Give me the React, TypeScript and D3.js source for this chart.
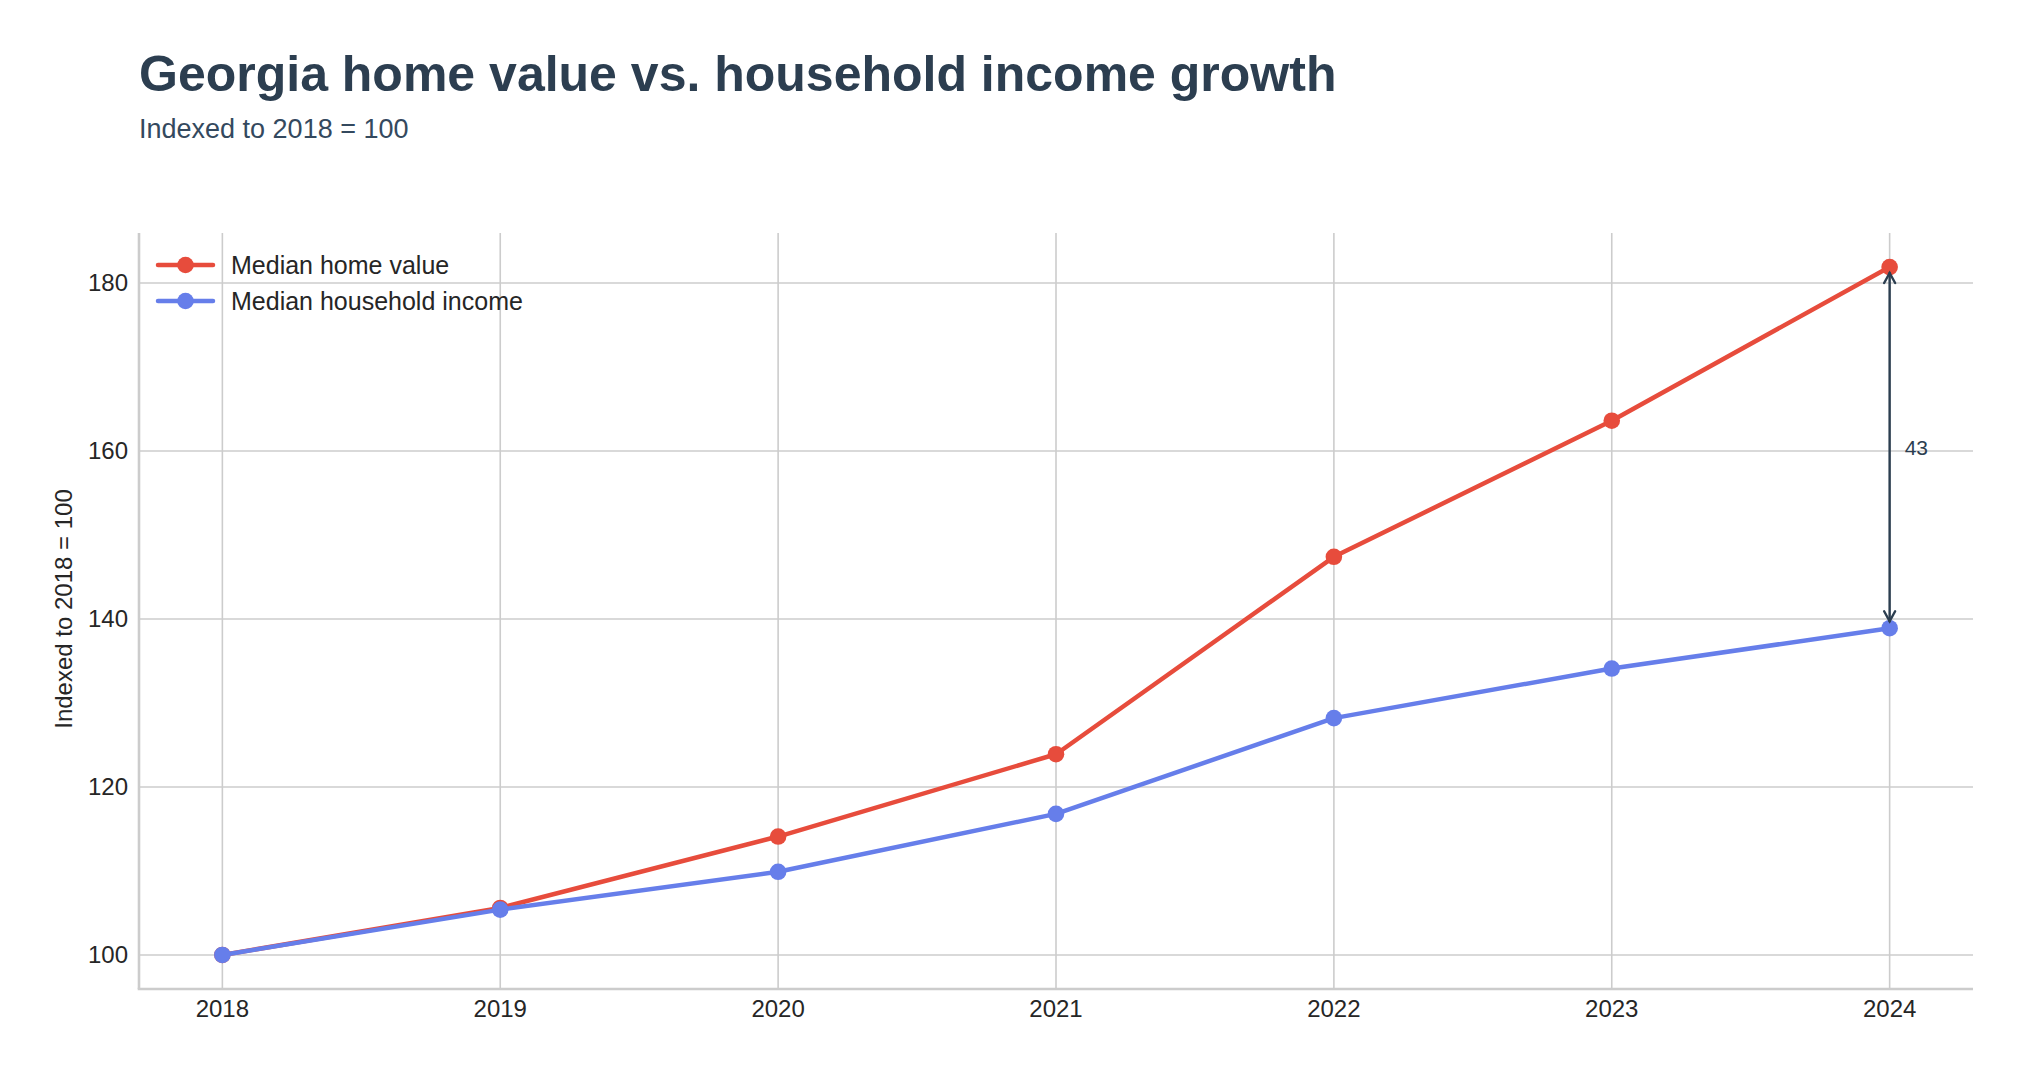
import React from "react";
import * as d3 from "d3";

const years: number[] = [2018, 2019, 2020, 2021, 2022, 2023, 2024];
const homeValue: number[] = [100, 105.6, 114.1, 123.9, 147.4, 163.6, 181.9];
const householdIncome: number[] = [100, 105.4, 109.9, 116.8, 128.2, 134.1, 138.9];
const yTicks: number[] = [100, 120, 140, 160, 180];
const seriesNames: string[] = ["Median home value", "Median household income"];
const seriesColors: string[] = ["#e74c3c", "#667eea"];

const W = 2027;
const H = 1075;
const FONT = "'Liberation Sans', Arial, Helvetica, sans-serif";

export default function App() {
  const left = 139;
  const right = 1973;
  const top = 233;
  const bottom = 989;

  const x = d3.scaleLinear().domain([2017.7, 2024.3]).range([left, right]);
  const y = d3.scaleLinear().domain([95.95, 185.95]).range([bottom, top]);

  const line = d3
    .line<number>()
    .x((_, i) => x(years[i]))
    .y((v) => y(v));

  const series = [homeValue, householdIncome];

  const lastIdx = years.length - 1;
  const ax = x(years[lastIdx]);
  const yTop = y(homeValue[lastIdx]);
  const yBot = y(householdIncome[lastIdx]);
  const gap = Math.round(homeValue[lastIdx] - householdIncome[lastIdx]);
  const arrowTop = yTop + 6;
  const arrowBot = yBot - 7;
  const ah = 10;
  const aw = 5.5;
  const arrowColor = "#2c3e50";

  return (
    <svg
      width={W}
      height={H}
      style={{ position: "absolute", left: 0, top: 0, display: "block", background: "#fff" }}
      fontFamily={FONT}
    >
      <rect x={0} y={0} width={W} height={H} fill="#ffffff" />
      {/* Title */}
      <text x={139} y={91} fontSize={50} fontWeight="bold" fill="#2c3e50">
        Georgia home value vs. household income growth
      </text>
      <text x={139} y={138} fontSize={27} fill="#34495e">
        Indexed to 2018 = 100
      </text>

      {/* Grid */}
      <g stroke="#cccccc" strokeWidth={1.6}>
        {years.map((yr) => (
          <line key={"gx" + yr} x1={x(yr)} x2={x(yr)} y1={top} y2={bottom} />
        ))}
        {yTicks.map((t) => (
          <line key={"gy" + t} x1={left} x2={right} y1={y(t)} y2={y(t)} />
        ))}
      </g>

      {/* Spines */}
      <line x1={left} x2={left} y1={top} y2={bottom} stroke="#cccccc" strokeWidth={2.6} />
      <line x1={left - 1.3} x2={right} y1={bottom} y2={bottom} stroke="#cccccc" strokeWidth={2.6} />

      {/* Tick labels */}
      <g fontSize={24} fill="#262626">
        {years.map((yr) => (
          <text key={"tx" + yr} x={x(yr)} y={1017} textAnchor="middle">
            {yr}
          </text>
        ))}
        {yTicks.map((t) => (
          <text key={"ty" + t} x={128} y={y(t)} textAnchor="end" dominantBaseline="central">
            {t}
          </text>
        ))}
      </g>

      {/* Y axis label */}
      <text
        transform={`translate(72, 609) rotate(-90)`}
        textAnchor="middle"
        fontSize={24}
        fill="#262626"
      >
        Indexed to 2018 = 100
      </text>

      {/* Series */}
      {series.map((s, si) => (
        <g key={"s" + si}>
          <path
            d={line(s) || ""}
            fill="none"
            stroke={seriesColors[si]}
            strokeWidth={4.5}
            strokeLinejoin="round"
            strokeLinecap="round"
          />
          {s.map((v, i) => (
            <circle key={i} cx={x(years[i])} cy={y(v)} r={8.3} fill={seriesColors[si]} />
          ))}
        </g>
      ))}

      {/* Gap annotation */}
      <g stroke={arrowColor} strokeWidth={2.4} fill="none" strokeLinecap="round" strokeLinejoin="miter">
        <line x1={ax} x2={ax} y1={arrowTop} y2={arrowBot} />
        <polyline points={`${ax - aw},${arrowTop + ah} ${ax},${arrowTop} ${ax + aw},${arrowTop + ah}`} />
        <polyline points={`${ax - aw},${arrowBot - ah} ${ax},${arrowBot} ${ax + aw},${arrowBot - ah}`} />
      </g>
      <text
        x={ax + 15}
        y={(yTop + yBot) / 2}
        dominantBaseline="central"
        fontSize={21}
        fill={arrowColor}
      >
        {gap}
      </text>

      {/* Legend */}
      {seriesNames.map((name, i) => {
        const ly = 265 + i * 36;
        return (
          <g key={"lg" + i}>
            <line x1={158} x2={213} y1={ly} y2={ly} stroke={seriesColors[i]} strokeWidth={4.5} strokeLinecap="round" />
            <circle cx={185.5} cy={ly} r={8.3} fill={seriesColors[i]} />
            <text x={231} y={ly} dominantBaseline="central" fontSize={25} fill="#262626">
              {name}
            </text>
          </g>
        );
      })}
    </svg>
  );
}
